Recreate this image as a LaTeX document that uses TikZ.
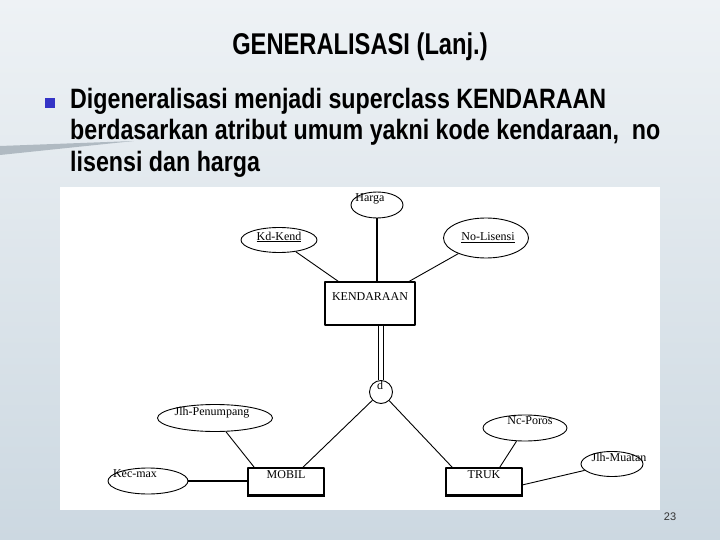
\documentclass[tikz,border=0pt]{standalone}
\usepackage{fontspec}
\setmainfont{Liberation Serif}
\newfontfamily\titlefont{Liberation Sans}[FakeStretch=0.79]
\newfontfamily\slidefont{Liberation Sans}[FakeStretch=0.83]
\newfontfamily\numfont{Liberation Sans}
\usetikzlibrary{shapes.geometric}
\definecolor{bgtop}{HTML}{EEF2F5}
\definecolor{bgbottom}{HTML}{CCD8E1}
\definecolor{bulletblue}{HTML}{3434C6}
\definecolor{swoosh}{HTML}{B0BAC2}
\begin{document}
\begin{tikzpicture}[x=1pt,y=-1pt,line join=bevel,
  entity/.style={draw,line width=1.2pt,inner sep=0pt,minimum width=76pt,text height=10pt,text depth=17pt,font=\fontsize{12}{12}\selectfont},
  attrib/.style={draw,ellipse,inner sep=0pt,line width=0.9pt},
  link/.style={line width=0.9pt},
  every label/.style={font=\fontsize{12}{12}\selectfont,inner sep=0pt},
  slide/.style={font=\slidefont\bfseries\fontsize{28}{31.5}\selectfont,inner sep=0pt}]
%% slide
  \useasboundingbox (0,0) rectangle (720,540);
  \shade [top color=bgtop,bottom color=bgbottom] (0,0) rectangle (720,540);
  \fill [swoosh] (0,146) -- (134,141) -- (0,155) -- cycle;
  \fill [white] (60,187) rectangle (660,510);
  \node [font=\titlefont\bfseries\fontsize{30}{30}\selectfont,inner sep=0pt,anchor=base] (title) at (360,55) {GENERALISASI (Lanj.)};
  \node [fill=bulletblue,minimum size=10pt,inner sep=0pt] (bullet) at (50,103) {};
  \node [slide,anchor=north west,align=left] (point) at (70,88) {Digeneralisasi menjadi superclass KENDARAAN\\berdasarkan atribut umum yakni kode kendaraan,~ no\\lisensi dan harga};
  \node [font=\numfont\fontsize{11}{11}\selectfont,text=black!80] (pagenum) at (670,517) {23};
%% entities
  \node [entity,minimum width=90pt,inner ysep=3pt,text height=15pt,text depth=22pt] (kendaraan) at (370,303.5) {KENDARAAN};
  \node [entity] (mobil) at (286,481.5) {MOBIL};
  \node [entity] (truk) at (484,481.5) {TRUK};
  \draw [line width=2pt] (mobil.south west) -- (mobil.south east);
  \draw [line width=2pt] (truk.south west) -- (truk.south east);
%% attributes
  \node [attrib,minimum width=52pt,minimum height=26pt,label={[shift={(-7,-6)}]center:Harga}] (harga) at (377,205) {};
  \node [attrib,minimum width=76pt,minimum height=25pt,label={[shift={(0,-3)}]center:\underline{Kd-Kend}}] (kdkend) at (279,240) {};
  \node [attrib,minimum width=85pt,minimum height=40pt,label={[shift={(2,0)}]center:\underline{No-Lisensi}}] (nolisensi) at (486,238) {};
  \node [attrib,minimum width=115pt,minimum height=27pt,label={[shift={(-3,-5)}]center:Jlh-Penumpang}] (jlhpen) at (215,418) {};
  \node [attrib,minimum width=80pt,minimum height=26pt,label={[shift={(-13,-7)}]center:Kec-max}] (kecmax) at (148,481) {};
  \node [attrib,minimum width=84pt,minimum height=26pt,label={[shift={(5,-7)}]center:Nc-Poros}] (ncporos) at (525,428) {};
  \node [attrib,minimum width=62pt,minimum height=25pt,label={[shift={(7,-7)}]center:Jlh-Muatan}] (jlhmuatan) at (612,464) {};
  \node [draw,circle,minimum size=23pt,inner sep=0pt,line width=0.9pt,label={[shift={(-1,-7)}]center:d}] (disj) at (381,392) {};
%% links
  \draw [link,line width=1.8pt] (harga) -- (harga |- kendaraan.north);
  \draw [link] (kdkend) -- (kendaraan);
  \draw [link] (nolisensi) -- (kendaraan);
  \draw [link,double,double distance=4pt] (disj.north |- kendaraan.south) -- (disj.north);
  \draw [link] (disj) -- (mobil.40);
  \draw [link] (disj) -- (truk.156);
  \draw [link] (jlhpen) -- (mobil.156);
  \draw [link,line width=2.2pt] (kecmax) -- (kecmax -| mobil.west);
  \draw [link] (ncporos) -- (truk.42);
  \draw [link] (jlhmuatan) -- (truk.-5);
\end{tikzpicture}
\end{document}
